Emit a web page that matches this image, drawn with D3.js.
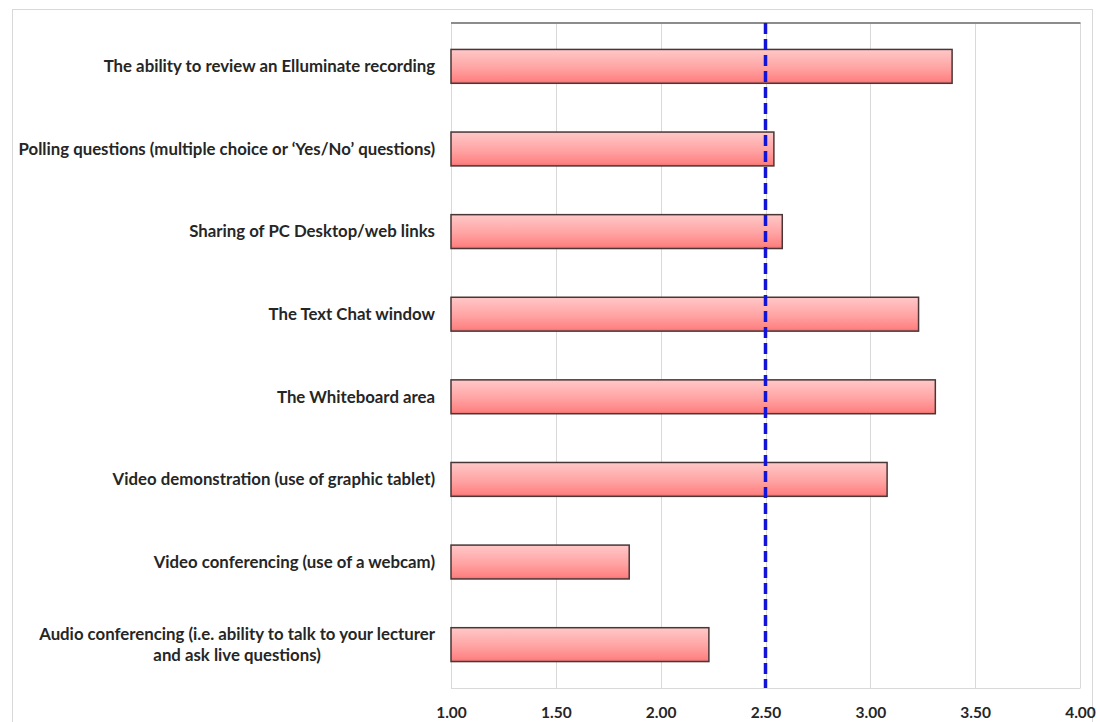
<!DOCTYPE html>
<html>
<head>
<meta charset="utf-8">
<script src="https://cdn.jsdelivr.net/npm/d3@7"></script>
<style>
  html, body { margin: 0; padding: 0; background: #fff; }
  svg { display: block; }
  .cat { font-family: Lato, "Open Sans", sans-serif; font-weight: 700; font-size: 16.8px; fill: #262626; }
  .tick-lab { font-family: Lato, "Open Sans", sans-serif; font-weight: 700; font-size: 15.5px; fill: #262626; }
</style>
</head>
<body>
<svg id="chart" width="1100" height="722"></svg>
<script>
// Feature ratings (mean score on a 1–4 scale), listed top to bottom
const categories = [
  "The ability to review an Elluminate recording",
  "Polling questions (multiple choice or \u2018Yes/No\u2019 questions)",
  "Sharing of PC Desktop/web links",
  "The Text Chat window",
  "The Whiteboard area",
  "Video demonstration (use of graphic tablet)",
  "Video conferencing (use of a webcam)",
  "Audio conferencing (i.e. ability to talk to your lecturer\nand ask live questions)"
];
const values = [3.39, 2.54, 2.58, 3.23, 3.31, 3.08, 1.85, 2.23];
const tickValues = [1.00, 1.50, 2.00, 2.50, 3.00, 3.50, 4.00];
const referenceValue = 2.5;

const svg = d3.select("#chart");

// Outer chart frame
svg.append("rect")
  .attr("x", 12.5).attr("y", 9.5)
  .attr("width", 1080).attr("height", 760)
  .attr("fill", "#fff")
  .attr("stroke", "#d9d9d9").attr("stroke-width", 1);

const plot = { left: 451, right: 1080, top: 23, bottom: 688 };

const x = d3.scaleLinear().domain([1, 4]).range([plot.left, plot.right]);
const y = d3.scaleBand().domain(categories)
  .range([plot.top, plot.bottom])
  .paddingInner(0.59).paddingOuter(0.32);

// Bar fill gradient
const defs = svg.append("defs");
const grad = defs.append("linearGradient")
  .attr("id", "barGrad").attr("x1", 0).attr("y1", 0).attr("x2", 0).attr("y2", 1);
grad.append("stop").attr("offset", "0%").attr("stop-color", "#ffc8c8");
grad.append("stop").attr("offset", "55%").attr("stop-color", "#ffa3a3");
grad.append("stop").attr("offset", "92%").attr("stop-color", "#ff8282");
grad.append("stop").attr("offset", "100%").attr("stop-color", "#e07070");

// Vertical gridlines
svg.append("g")
  .selectAll("line")
  .data(tickValues)
  .join("line")
  .attr("x1", d => Math.round(x(d)) + 0.5).attr("x2", d => Math.round(x(d)) + 0.5)
  .attr("y1", plot.top).attr("y2", plot.bottom)
  .attr("stroke", "#d9d9d9").attr("stroke-width", 1);

// Bottom axis baseline
svg.append("line")
  .attr("x1", plot.left).attr("x2", plot.right + 0.5)
  .attr("y1", plot.bottom + 0.5).attr("y2", plot.bottom + 0.5)
  .attr("stroke", "#d9d9d9").attr("stroke-width", 1);

// Top border line of the plot
svg.append("line")
  .attr("x1", plot.left).attr("x2", plot.right + 0.5)
  .attr("y1", plot.top).attr("y2", plot.top)
  .attr("stroke", "#8c8c8c").attr("stroke-width", 2);

// Bars
svg.append("g")
  .selectAll("rect")
  .data(values)
  .join("rect")
  .attr("x", x(1))
  .attr("y", (d, i) => y(categories[i]))
  .attr("width", d => x(d) - x(1))
  .attr("height", y.bandwidth())
  .attr("fill", "url(#barGrad)")
  .attr("stroke", "#4a3636").attr("stroke-width", 1.5);

// Reference line at 2.5
svg.append("line")
  .attr("x1", x(referenceValue)).attr("x2", x(referenceValue))
  .attr("y1", plot.top).attr("y2", plot.bottom)
  .attr("stroke", "#1414d6").attr("stroke-width", 3.5)
  .attr("stroke-dasharray", "11,5");

// Category labels (multi-line labels are centred on their longest line)
const labelRight = 435;
const catG = svg.append("g");
categories.forEach(c => {
  const lines = c.split("\n");
  const cy = y(c) + y.bandwidth() / 2;
  const lh = 21;
  const t = catG.append("text").attr("class", "cat");
  if (lines.length === 1) {
    t.attr("x", labelRight).attr("y", cy).attr("dy", "0.35em")
      .attr("text-anchor", "end").text(c);
  } else {
    t.attr("text-anchor", "middle");
    lines.forEach((ln, k) => {
      t.append("tspan").attr("x", 0)
        .attr("y", cy + (k - (lines.length - 1) / 2) * lh)
        .attr("dy", "0.35em").text(ln);
    });
    const w = d3.max(t.selectAll("tspan").nodes(), n => n.getComputedTextLength());
    t.selectAll("tspan").attr("x", labelRight - w / 2);
  }
});

// Bottom tick labels
const axis = d3.axisBottom(x).tickValues(tickValues).tickFormat(d3.format(".2f")).tickSize(0).tickPadding(0);
const ag = svg.append("g").attr("transform", `translate(0, ${plot.bottom + 25})`).call(axis);
ag.select(".domain").remove();
ag.selectAll("text").attr("class", "tick-lab").attr("dy", "0.35em").attr("font-size", null).attr("font-family", null);
</script>
</body>
</html>
